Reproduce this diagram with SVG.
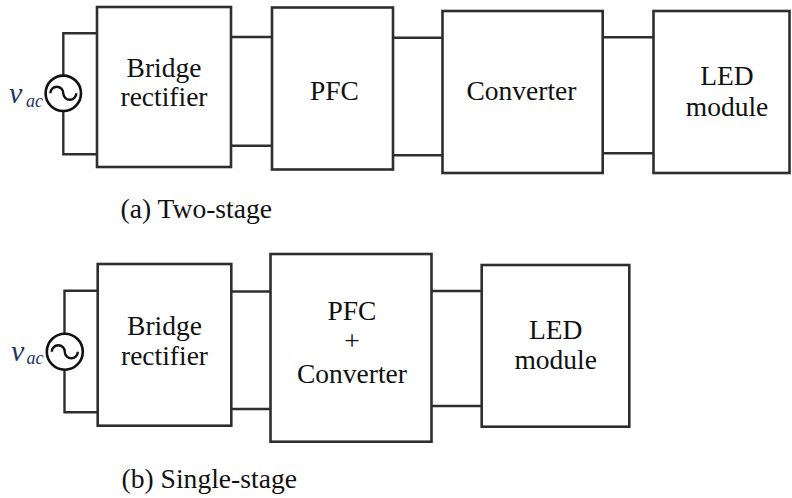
<svg xmlns="http://www.w3.org/2000/svg" width="792" height="498" viewBox="0 0 792 498">
<style>
.box{fill:#fff;stroke:#2e2e2e;stroke-width:2.6}
.w{fill:none;stroke:#2e2e2e;stroke-width:2.4}
.src{fill:#fff;stroke:#111;stroke-width:2.6}
.t{font-family:"Liberation Serif","Times New Roman",serif;font-size:27.5px;fill:#111;text-anchor:middle}
.cap{font-family:"Liberation Serif","Times New Roman",serif;font-size:27.6px;fill:#111}
.v{font-family:"Liberation Serif","Times New Roman",serif;font-style:italic;fill:#243463}
</style>
<rect width="792" height="498" fill="#fff"/>
<g id="connectors">
<path class="w" d="M63.3,75.5 V33.3 H97 M63.3,111 V154.3 H97"/>
<path class="w" d="M231,37 H272 M231,145.7 H272"/>
<path class="w" d="M393,37.7 H442.5 M393,155.3 H442.5"/>
<path class="w" d="M602.7,37.3 H653.5 M602.7,153.3 H653.5"/>
<path class="w" d="M64.5,333.5 V290.7 H97.7 M64.5,370 V412.3 H97.7"/>
<path class="w" d="M231.3,291.5 H270.5 M231.3,409 H270.5"/>
<path class="w" d="M431.5,291 H481.7 M431.5,406 H481.7"/>
</g>
<g id="src-a">
<circle class="src" cx="63.3" cy="93.3" r="17.7"/>
<path class="w" d="M50.3,93.3 a6.5,6.5 0 0 1 13,0 a6.5,6.5 0 0 0 13,0" style="stroke:#111"/>
<text class="v" x="9" y="103.3" font-size="30">v</text>
<text class="v" x="26" y="106.5" font-size="18">ac</text>
</g>
<g id="bridge-a">
<rect class="box" x="97" y="7" width="134" height="160"/>
<text class="t" x="164" y="77.3">Bridge</text>
<text class="t" x="164" y="106">rectifier</text>
</g>
<g id="pfc-a">
<rect class="box" x="272" y="7.5" width="121" height="162"/>
<text class="t" x="334.5" y="100">PFC</text>
</g>
<g id="converter-a">
<rect class="box" x="442.5" y="11" width="160.2" height="162"/>
<text class="t" x="521.5" y="100">Converter</text>
</g>
<g id="led-a">
<rect class="box" x="653.5" y="11" width="136" height="162"/>
<text class="t" x="727" y="85">LED</text>
<text class="t" x="727" y="116">module</text>
</g>
<text class="cap" x="120.5" y="218.3">(a) Two-stage</text>
<g id="src-b">
<circle class="src" cx="64.8" cy="351.7" r="18"/>
<path class="w" d="M51.8,351.7 a6.5,6.5 0 0 1 13,0 a6.5,6.5 0 0 0 13,0" style="stroke:#111"/>
<text class="v" x="11" y="361" font-size="30">v</text>
<text class="v" x="26.5" y="363.5" font-size="18">ac</text>
</g>
<g id="bridge-b">
<rect class="box" x="97.7" y="264" width="133.6" height="161.7"/>
<text class="t" x="164.5" y="335">Bridge</text>
<text class="t" x="164.5" y="365">rectifier</text>
</g>
<g id="pfc-converter-b">
<rect class="box" x="270.5" y="254" width="161" height="187.7"/>
<text class="t" x="352" y="320">PFC</text>
<text class="t" x="352" y="350">+</text>
<text class="t" x="352" y="383.3">Converter</text>
</g>
<g id="led-b">
<rect class="box" x="481.7" y="265" width="147.6" height="161.7"/>
<text class="t" x="555.7" y="339.3">LED</text>
<text class="t" x="555.7" y="369.3">module</text>
</g>
<text class="cap" x="121.5" y="488.3">(b) Single-stage</text>
</svg>
